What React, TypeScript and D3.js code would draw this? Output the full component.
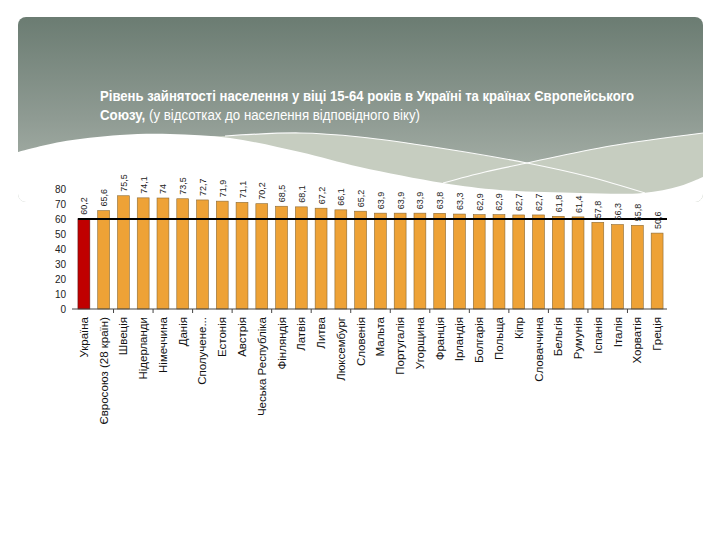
import React from "react";
import * as d3 from "d3";

const categories = [
  "Україна", "Євросоюз (28 країн)", "Швеція", "Нідерланди", "Німеччина", "Данія",
  "Сполучене...", "Естонія", "Австрія", "Чеська Республіка", "Фінляндія", "Латвія",
  "Литва", "Люксембург", "Словенія", "Мальта", "Португалія", "Угорщина", "Франція",
  "Ірландія", "Болгарія", "Польща", "Кіпр", "Словаччина", "Бельгія", "Румунія",
  "Іспанія", "Італія", "Хорватія", "Греція",
];
const values = [
  60.2, 65.6, 75.5, 74.1, 74, 73.5, 72.7, 71.9, 71.1, 70.2, 68.5, 68.1, 67.2, 66.1,
  65.2, 63.9, 63.9, 63.9, 63.8, 63.3, 62.9, 62.9, 62.7, 62.7, 61.8, 61.4, 57.8, 56.3,
  55.8, 50.6,
];
const highlighted = ["Україна"];
const referenceValue = 60;
const yTicks = [0, 10, 20, 30, 40, 50, 60, 70, 80];
const titleLine1 = "Рівень зайнятості населення у віці 15-64 років в Україні та країнах Європейського";
const titleLine2Bold = "Союзу,";
const titleLine2Normal = " (у відсотках до населення відповідного віку)";

// decorative slide background shapes (not data)
const wavePts: [number, number][] = [[18, 152], [60, 142], [120, 135], [170, 134], [230, 138], [300, 152], [360, 167], [443, 183], [500, 190], [580, 193], [643, 193], [680, 186], [703, 177]];
const lineAPts: [number, number][] = [[225, 136], [300, 133], [360, 137], [440, 148], [527, 163], [590, 177], [645, 193]];
const lineBPts: [number, number][] = [[443, 183], [485, 172], [527, 163], [610, 146], [703, 133]];
const lightLeftPts: [number, number][] = [[190, 137], [225, 136], [300, 133], [360, 137], [440, 148], [527, 163]];
const lightRightPts: [number, number][] = [[527, 163], [610, 146], [703, 133]];

const FONT = "'Liberation Sans Narrow', 'Liberation Sans', Arial, sans-serif";

export default function App() {
  const x = d3.scaleBand<string>().domain(categories).range([74, 667]).paddingInner(0.4).paddingOuter(0.2);
  const y = d3.scaleLinear().domain([0, 80]).range([309, 189]);
  const data = categories.map((c, i) => ({ c, v: values[i] }));
  const fmt = (v: number) => String(v).replace(".", ",");

  const area = d3.area<[number, number]>().x((p) => p[0]).y0(220).y1((p) => p[1]).curve(d3.curveCatmullRom);
  const line = d3.line<[number, number]>().x((p) => p[0]).y((p) => p[1]).curve(d3.curveCatmullRom);

  const tickIdx = categories.map((_, i) => i).filter((i) => i % 2 === 0 && i > 0);

  return (
    <svg width={720} height={540} style={{ position: "absolute", left: 0, top: 0, background: "#fff" }}>
      <defs>
        <linearGradient id="bg" x1="0" y1="0" x2="0" y2="1">
          <stop offset="0" stopColor="#6b7c72" />
          <stop offset="0.55" stopColor="#8f9b93" />
          <stop offset="1" stopColor="#b0b9b0" />
        </linearGradient>
        <clipPath id="bannerClip">
          <rect x={18} y={17} width={685} height={185} rx={8} />
        </clipPath>
      </defs>
      <g clipPath="url(#bannerClip)">
        <rect x={18} y={17} width={685} height={185} fill="url(#bg)" />
        <path d={area(lightLeftPts) || ""} fill="#c6cdc0" />
        <path d={area(lightRightPts) || ""} fill="#c6cdc0" />
        <path d={area(wavePts) || ""} fill="#ffffff" />
        <path d={line(lineAPts) || ""} fill="none" stroke="#ffffff" strokeWidth={1.2} opacity={0.95} />
        <path d={line(lineBPts) || ""} fill="none" stroke="#ffffff" strokeWidth={1.2} opacity={0.95} />
      </g>
      <text x={100} y={101} fill="#ffffff" fontFamily={FONT} fontSize={14} fontWeight="bold"
        textLength={534} lengthAdjust="spacingAndGlyphs">{titleLine1}</text>
      <text x={100} y={120} fill="#ffffff" fontFamily={FONT} fontSize={14}
        textLength={320} lengthAdjust="spacingAndGlyphs">
        <tspan fontWeight="bold">{titleLine2Bold}</tspan>
        <tspan>{titleLine2Normal}</tspan>
      </text>

      {yTicks.map((t) => (
        <text key={t} x={66} y={y(t)} dy="0.35em" textAnchor="end" fontFamily="'Liberation Sans', Arial, sans-serif"
          fontSize={10} fill="#222">{t}</text>
      ))}

      {data.map((d) => (
        <rect key={d.c} x={x(d.c)} y={y(d.v)} width={x.bandwidth()} height={y(0) - y(d.v)}
          fill={highlighted.includes(d.c) ? "#c00000" : "#eea236"}
          stroke={highlighted.includes(d.c) ? "#5a1010" : "#8a6a35"} strokeWidth={0.6} />
      ))}

      <line x1={72} x2={667} y1={y(0)} y2={y(0)} stroke="#444" strokeWidth={1} />
      {tickIdx.map((i) => {
        const xx = (x(categories[i]) as number) - x.step() * x.paddingInner() / 2;
        return <line key={i} x1={xx} x2={xx} y1={y(0)} y2={y(0) + 4} stroke="#444" />;
      })}

      <line x1={x(categories[0]) as number} x2={667} y1={y(referenceValue)} y2={y(referenceValue)}
        stroke="#000" strokeWidth={2} />

      {data.map((d) => {
        const cx = (x(d.c) as number) + x.bandwidth() / 2;
        const ty = y(d.v) - 4;
        return (
          <text key={d.c} transform={`translate(${cx + 3.5},${ty}) rotate(-90)`} fontFamily="'Liberation Sans', Arial, sans-serif"
            fontSize={9} fill="#222">{fmt(d.v)}</text>
        );
      })}

      {data.map((d) => {
        const cx = (x(d.c) as number) + x.bandwidth() / 2;
        return (
          <text key={d.c} transform={`translate(${cx + 4},${317}) rotate(-90)`} textAnchor="end"
            fontFamily={FONT} fontSize={11.5} fill="#111">{d.c}</text>
        );
      })}
    </svg>
  );
}
